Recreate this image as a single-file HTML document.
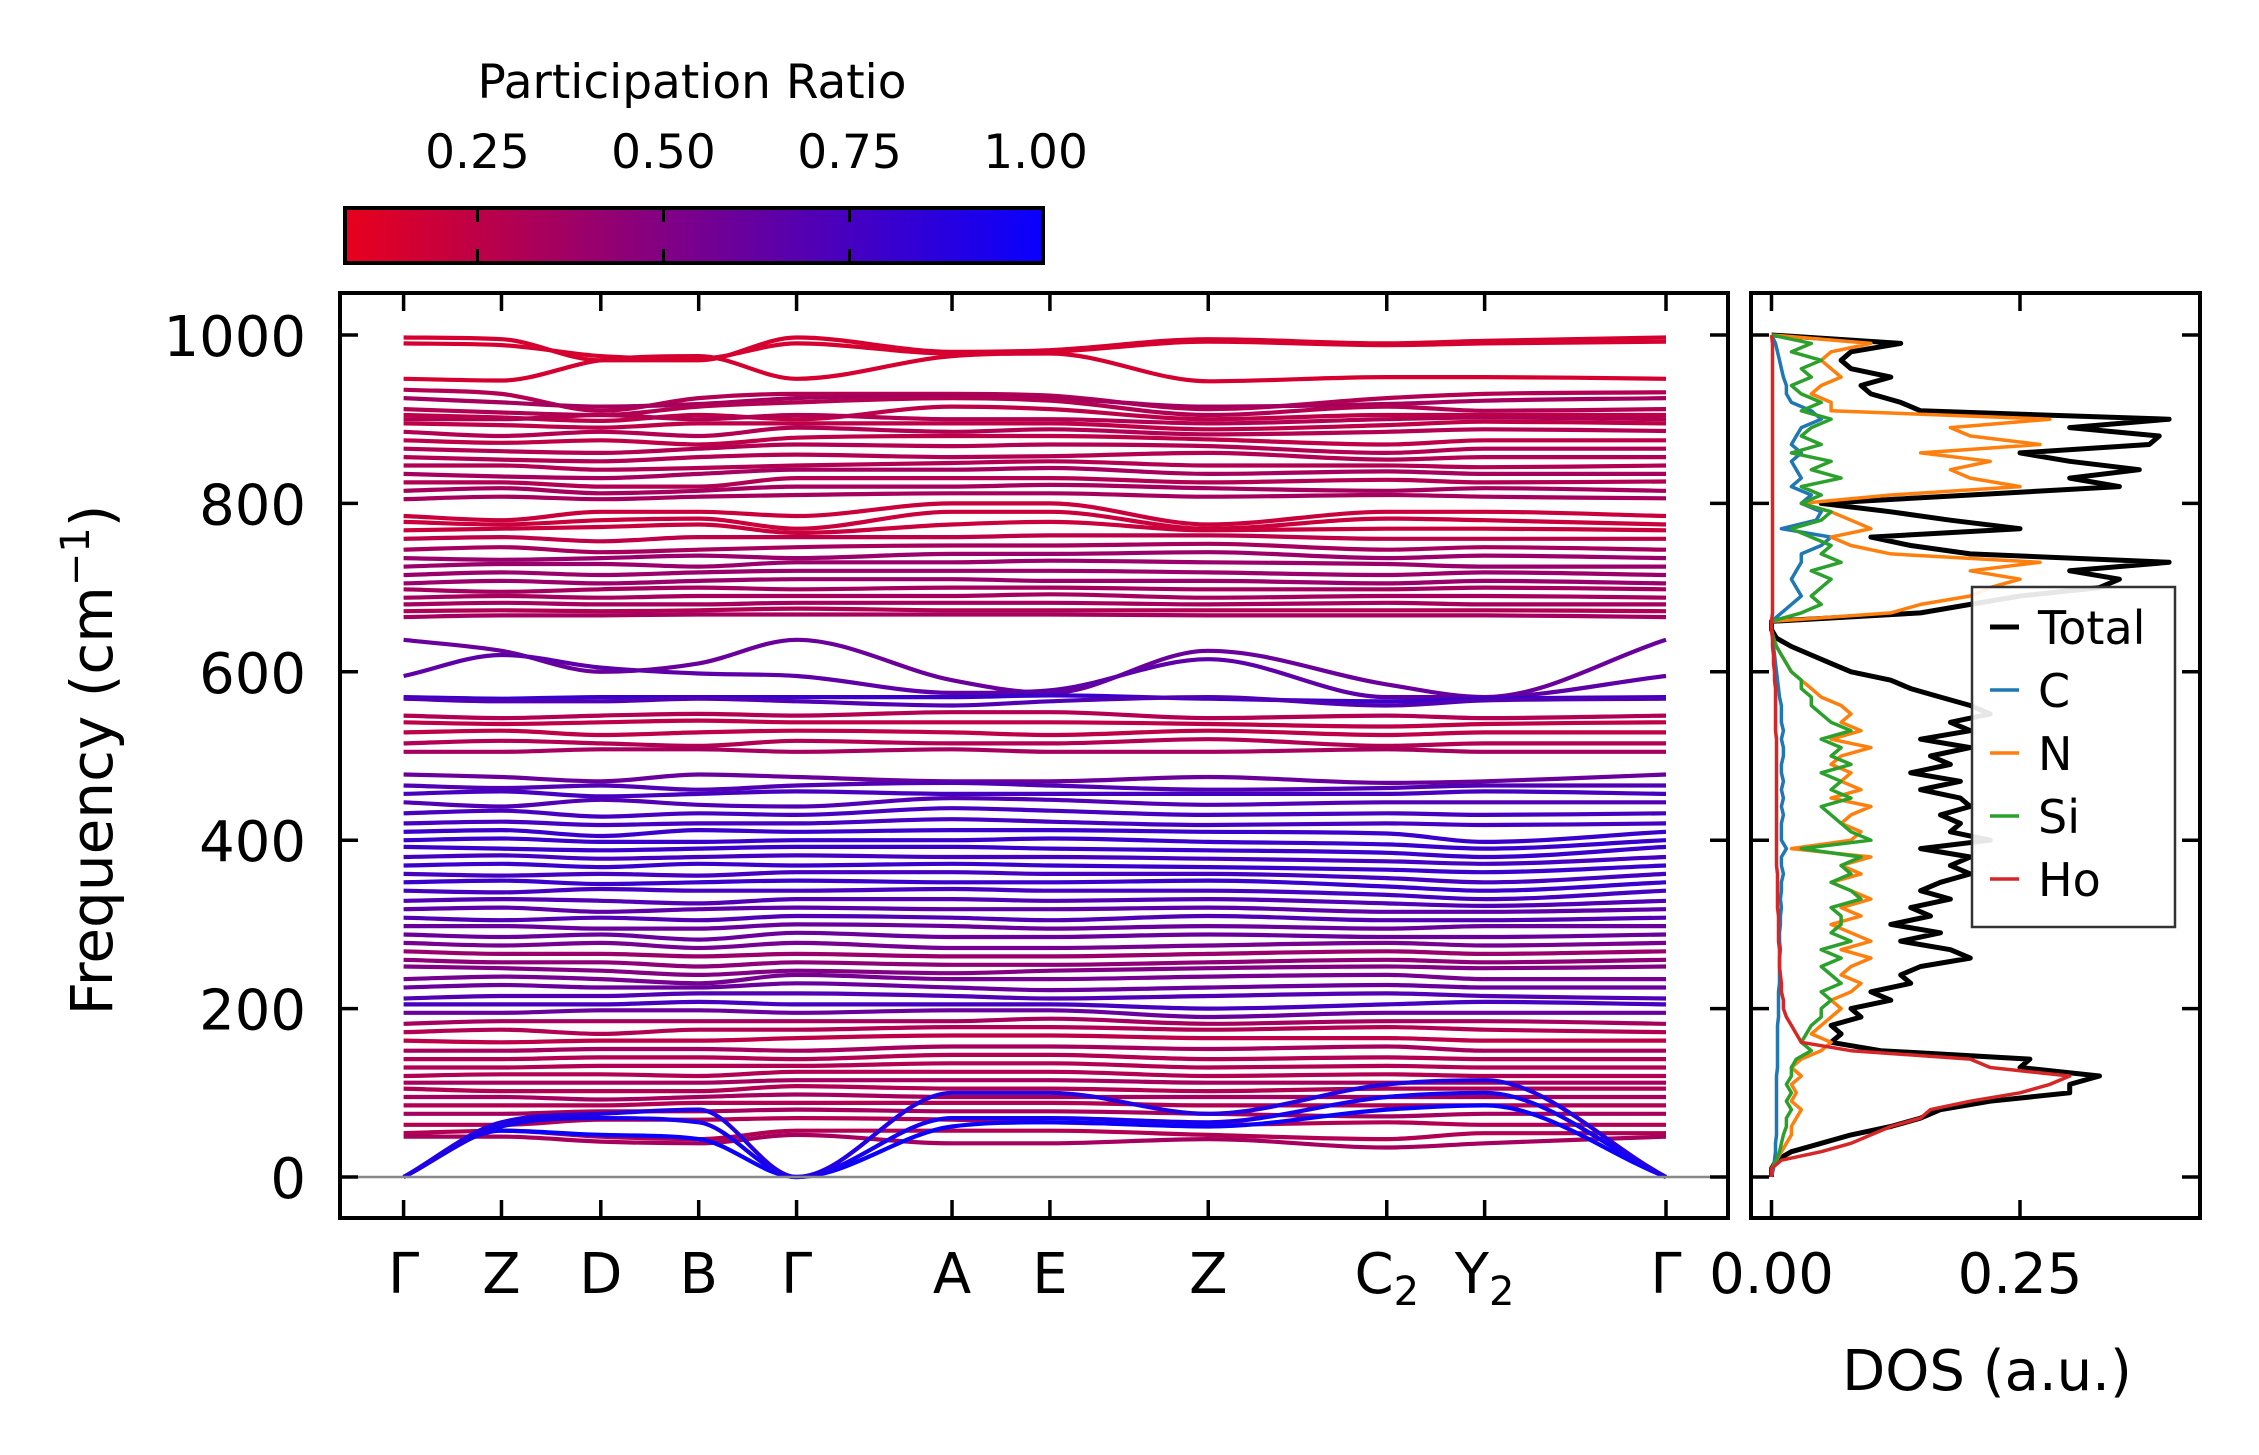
<!DOCTYPE html>
<html><head><meta charset="utf-8"><style>
html,body{margin:0;padding:0;background:#fff;}
svg{display:block;font-family:"DejaVu Sans","Liberation Sans",sans-serif;}
</style></head><body>
<svg id="fig" width="2259" height="1455" viewBox="0 0 2259 1455" xmlns="http://www.w3.org/2000/svg">
<defs>
<linearGradient id="cbgrad" x1="0" x2="1" y1="0" y2="0">
<stop offset="0" stop-color="rgb(232,0,28)"/><stop offset="1" stop-color="rgb(8,0,255)"/>
</linearGradient>
<clipPath id="clipMain"><rect x="340" y="293" width="1388" height="925"/></clipPath>
<clipPath id="clipDos"><rect x="1751" y="293" width="449" height="925"/></clipPath>
</defs>
<g id="colorbar">
<text x="692" y="98" font-size="47" text-anchor="middle">Participation Ratio</text>
<rect x="345" y="208" width="698" height="55" fill="url(#cbgrad)" stroke="#000" stroke-width="4"/>
<g id="cbticks"></g>
</g>
<g id="main">
<g id="bands" clip-path="url(#clipMain)"></g>
<line x1="340" x2="1728" y1="1177" y2="1177" stroke="#888" stroke-width="2.5"/>
<rect x="340" y="293" width="1388" height="925" fill="none" stroke="#000" stroke-width="4"/>
<g id="mainTicks"></g>
<text transform="translate(112,760) rotate(-90)" font-size="58" text-anchor="middle">Frequency (cm<tspan font-size="40" dy="-23">−1</tspan><tspan dy="23">)</tspan></text>
</g>
<g id="dos">
<g id="dosLines" clip-path="url(#clipDos)"></g>
<rect x="1751" y="293" width="449" height="925" fill="none" stroke="#000" stroke-width="4"/>
<g id="dosTicks"></g>
<text x="1987" y="1390" font-size="56" text-anchor="middle">DOS (a.u.)</text>
<g id="legend">
<rect x="1972" y="587" width="203" height="340" fill="#fff" fill-opacity="0.9" stroke="#333" stroke-width="2.5"/>
</g>
</g>
</svg>
<script>
const kLabels = ["Γ","Z","D","B","Γ","A","E","Z","C2","Y2","Γ"];
const kDist = [0,68,137,205,273,381,449,559,683,751,877];
const yTicks = [0,200,400,600,800,1000];
const cbTicks = [0.25,0.5,0.75,1.0];
const cbTickLabels = ["0.25","0.50","0.75","1.00"];
const bandFreqs = [
[997,995,970,970,997,980,982,995,990,993,997],
[990,988,975,972,990,978,980,992,988,990,992],
[948,946,970,975,948,975,978,945,950,950,948],
[935,930,910,925,930,930,928,912,925,930,932],
[925,920,915,918,925,928,925,915,918,922,925],
[912,908,905,915,920,925,922,905,915,910,912],
[905,902,898,905,900,915,912,900,905,905,905],
[900,900,905,900,905,900,900,895,900,902,900],
[895,893,890,895,895,895,895,888,893,897,895],
[885,880,885,880,890,885,888,882,885,888,886],
[875,872,875,870,878,880,880,876,870,875,875],
[865,862,860,865,870,868,870,868,860,865,865],
[855,852,850,855,858,855,856,860,852,855,855],
[845,845,840,842,845,848,850,845,845,843,845],
[835,832,830,835,840,840,842,835,838,835,835],
[825,825,820,820,830,830,830,825,828,825,826],
[815,818,812,815,820,820,822,818,815,818,815],
[805,808,805,808,810,812,812,808,810,808,806],
[785,780,790,790,785,800,800,775,790,790,785],
[778,775,780,782,770,790,790,770,782,780,775],
[768,770,772,775,765,775,778,768,770,770,768],
[758,760,755,760,760,760,762,762,758,758,758],
[745,748,742,745,748,750,750,752,745,748,745],
[735,733,735,738,735,740,740,742,735,738,735],
[725,728,728,725,730,730,732,730,728,725,725],
[715,718,715,718,720,720,720,718,715,718,715],
[705,708,705,708,710,710,708,708,705,708,705],
[698,695,698,700,698,700,700,698,698,700,698],
[688,690,688,690,690,690,692,688,690,690,688],
[680,682,680,680,682,682,682,680,682,680,680],
[672,673,672,673,675,673,673,673,673,673,672],
[665,667,667,668,668,668,668,667,667,667,665],
[638,625,600,610,638,590,575,625,585,570,638],
[595,620,605,598,595,575,578,615,570,570,595],
[570,568,570,570,570,570,572,568,565,568,570],
[568,565,565,568,565,560,565,570,560,566,568],
[548,545,548,550,548,552,552,545,548,545,548],
[540,538,540,542,540,540,540,538,535,538,540],
[528,530,525,528,530,528,525,530,525,528,528],
[515,518,515,512,518,515,515,520,512,515,515],
[505,505,508,508,505,508,505,505,508,505,505],
[478,475,470,478,475,470,470,475,468,470,478],
[465,462,465,460,465,468,465,460,462,465,465],
[455,458,452,455,458,455,455,455,455,458,455],
[445,440,448,442,440,450,448,442,445,445,445],
[432,435,428,432,430,438,435,430,432,430,432],
[420,422,418,420,420,425,422,418,420,418,420],
[410,412,405,412,410,412,412,410,408,398,410],
[400,402,398,398,400,400,402,398,395,390,400],
[392,390,388,390,392,392,390,388,385,380,392],
[380,382,378,380,382,380,380,378,375,372,380],
[370,372,368,372,370,372,370,368,365,362,370],
[360,358,360,358,362,362,360,360,355,350,360],
[350,352,348,350,352,350,350,352,345,340,350],
[340,338,342,340,340,342,340,340,335,330,340],
[328,330,328,325,330,330,328,330,325,322,328],
[318,320,315,318,320,318,318,320,315,315,318],
[308,305,308,305,310,308,305,310,305,305,308],
[298,298,295,295,300,298,295,298,295,298,298],
[288,285,288,282,290,285,285,288,285,285,288],
[278,275,278,272,278,272,272,275,278,275,278],
[268,265,265,262,265,262,262,265,268,265,268],
[258,255,255,250,255,252,252,255,258,255,258],
[250,248,245,240,245,242,245,248,250,248,250],
[235,238,235,230,240,235,235,238,240,235,235],
[225,228,225,225,230,225,222,225,228,225,225],
[212,215,215,218,218,215,212,215,218,215,212],
[205,205,205,208,205,205,205,200,205,208,205],
[195,195,198,198,195,198,198,190,195,195,195],
[182,185,185,185,185,185,188,182,185,185,182],
[172,175,170,175,175,178,178,175,178,175,172],
[162,160,162,162,165,168,168,165,165,162,162],
[150,150,152,152,150,155,155,152,155,150,150],
[140,140,142,142,140,145,145,140,142,140,140],
[130,130,132,132,132,135,135,130,132,130,130],
[120,122,122,120,125,125,125,120,122,120,120],
[112,112,112,112,115,115,115,112,112,112,112],
[105,102,102,102,108,105,105,102,105,105,105],
[95,95,92,95,98,95,95,95,95,95,95],
[85,85,85,88,88,88,88,85,85,85,85],
[75,75,78,78,80,78,78,75,72,75,75],
[62,62,68,68,70,68,65,62,65,62,62],
[52,55,48,45,55,55,55,50,45,52,52],
[48,48,42,40,50,40,40,45,35,40,48],
[0,55,50,45,0,60,65,60,80,85,0],
[0,60,70,65,0,70,70,65,95,100,0],
[0,65,75,80,0,100,100,75,110,115,0]
];
const bandPR = [0.15,0.15,0.15,0.3,0.35,0.3,0.25,0.3,0.25,0.3,0.25,0.3,0.3,0.3,0.35,0.3,0.35,0.35,0.2,0.2,0.2,0.25,0.35,0.4,0.4,0.4,0.4,0.35,0.35,0.35,0.3,0.35,
0.6,0.65,0.8,0.7,0.3,0.25,0.25,0.3,0.35,
0.6,0.7,0.75,0.7,0.75,0.75,0.8,0.8,0.8,0.75,0.8,0.75,0.8,0.75,0.7,0.65,0.7,0.6,0.6,0.55,0.4,0.45,0.5,0.55,0.6,0.7,0.75,0.6,0.35,0.3,0.25,0.35,0.3,0.3,0.3,0.35,0.3,0.35,0.3,0.35,0.3,0.3,0.35,1.0,0.95,0.9];

const dosFreq = [0,10,20,30,40,50,60,70,80,90,100,110,120,130,140,150,160,170,180,190,200,210,220,230,240,250,260,270,280,290,300,310,320,330,340,350,360,370,380,390,400,410,420,430,440,450,460,470,480,490,500,510,520,530,540,550,560,570,580,590,600,610,620,630,640,650,660,670,680,690,700,710,720,730,740,750,760,770,780,790,800,810,820,830,840,850,860,870,880,890,900,910,920,930,940,950,960,970,980,990,1000];
const dosTotal = [0,0,.005,.02,.05,.08,.12,.15,.17,.22,.30,.30,.33,.25,.26,.11,.06,.07,.06,.09,.08,
.12,.10,.14,.13,.15,.20,.18,.13,.17,.12,
.16,.14,.18,.15,.17,.20,.18,.20,.15,.22,
.18,.19,.17,.20,.19,.15,.19,.14,.18,.16,
.20,.15,.20,.18,.22,.20,.17,.14,.12,.08,
.06,.04,.02,.005,0,0,.15,.20,.25,.33,
.35,.30,.40,.20,.14,.10,.25,.18,.12,.05,
.20,.35,.30,.37,.30,.25,.38,.39,.30,.40,
.15,.13,.10,.09,.12,.08,.07,.08,.13,0];
const dosN = [0,0,.005,.01,.015,.02,.02,.025,.03,.02,.025,.02,.03,.02,.03,.05,.06,.04,.05,.06,.07,
.06,.08,.09,.07,.08,.10,.07,.10,.08,.06,
.09,.07,.10,.08,.06,.09,.07,.10,.02,.08,
.09,.07,.08,.10,.06,.09,.07,.08,.06,.07,
.10,.06,.09,.07,.08,.07,.05,.04,.03,.02,
.015,.01,.005,.002,0,0,.12,.15,.20,.22,
.25,.20,.27,.12,.08,.06,.10,.08,.06,.03,
.12,.25,.20,.18,.22,.15,.27,.20,.18,.28,
.06,.06,.04,.05,.07,.06,.05,.06,.10,0];
const dosSi = [0,0,.005,.008,.01,.012,.015,.015,.02,.015,.02,.015,.02,.02,.025,.04,.03,.035,.04,.05,.05,
.06,.05,.07,.06,.05,.07,.05,.08,.06,.07,
.07,.06,.09,.08,.06,.08,.07,.09,.03,.10,
.08,.07,.06,.05,.08,.06,.07,.05,.08,.06,
.07,.05,.08,.06,.05,.04,.04,.03,.03,.02,
.015,.01,.005,.002,0,0,.03,.05,.04,.05,
.06,.04,.07,.05,.06,.04,.02,.05,.06,.03,
.05,.03,.07,.04,.06,.02,.05,.03,.04,.06,
.03,.05,.03,.02,.04,.03,.05,.02,.04,0];
const dosC = [0,.002,.003,.004,.004,.005,.005,.005,.005,.005,.005,.005,.005,.006,.006,.006,.006,.006,.006,.007,.007,
.007,.007,.008,.008,.008,.008,.009,.008,.008,.009,
.009,.01,.009,.01,.01,.012,.01,.01,.015,.01,
.01,.01,.012,.01,.012,.01,.012,.01,.01,.012,
.012,.01,.012,.01,.01,.01,.008,.007,.006,.005,
.004,.003,.002,.001,0,0,.01,.02,.03,.025,
.02,.025,.03,.03,.05,.06,.01,.045,.05,.03,
.04,.02,.03,.025,.02,.03,.02,.025,.03,.05,
.04,.02,.015,.015,.012,.01,.008,.006,.004,0];
const dosHo = [0,0,.01,.05,.08,.10,.12,.15,.16,.20,.25,.28,.30,.22,.20,.08,.03,.025,.02,.015,.012,
.012,.01,.01,.009,.008,.008,.008,.007,.007,.007,
.007,.006,.006,.006,.006,.006,.005,.005,.005,.005,
.005,.005,.005,.005,.005,.005,.005,.005,.005,.005,
.005,.005,.004,.004,.004,.004,.004,.004,.003,.003,
.002,.002,.001,.001,0,0,.001,.001,.001,.001,
.001,.001,.001,.001,.001,.001,.001,.001,.001,.001,
.001,.001,.001,.001,.001,.001,.001,.001,.001,.001,
.001,.001,.001,.001,.001,.001,.001,.001,.001,0];
const dosTickVals = [0,0.25];
const dosTickLabels = ["0.00","0.25"];
const legendNames = ["Total","C","N","Si","Ho"];

const NS="http://www.w3.org/2000/svg";
const X0=403.6, X1=1666, Y0=1177, PXU=0.842;
const xK = d => X0 + d/kDist[kDist.length-1]*(X1-X0);
const yF = f => Y0 - f*PXU;
const xD = v => 1771.5 + v*994;
const CB_MIN=0.072, CB_MAX=1.01, CBL=345, CBR=1043;
const xCB = v => CBL + (v-CB_MIN)/(CB_MAX-CB_MIN)*(CBR-CBL);
function prColor(p){const t=Math.max(0,Math.min(1,(p-CB_MIN)/(CB_MAX-CB_MIN)));
 return `rgb(${Math.round(232+(8-232)*t)},0,${Math.round(28+(255-28)*t)})`;}
function el(tag,attrs,parent){const e=document.createElementNS(NS,tag);for(const k in attrs)e.setAttribute(k,attrs[k]);parent.appendChild(e);return e;}

// monotone cubic path (no overshoot)
function monoPath(pts){
 const n=pts.length, m=new Array(n), dl=[];
 for(let i=0;i<n-1;i++) dl.push((pts[i+1][1]-pts[i][1])/(pts[i+1][0]-pts[i][0]));
 m[0]=dl[0]; m[n-1]=dl[n-2];
 for(let i=1;i<n-1;i++){ m[i]=(dl[i-1]*dl[i]<=0)?0:(dl[i-1]+dl[i])/2; }
 for(let i=0;i<n-1;i++){ if(dl[i]===0){m[i]=0;m[i+1]=0;continue;}
  const a=m[i]/dl[i], b=m[i+1]/dl[i], s=a*a+b*b;
  if(s>9){const t=3/Math.sqrt(s); m[i]=t*a*dl[i]; m[i+1]=t*b*dl[i];} }
 let d=`M${pts[0][0].toFixed(1)},${pts[0][1].toFixed(1)}`;
 for(let i=0;i<n-1;i++){ const h=(pts[i+1][0]-pts[i][0])/3;
  d+=` C${(pts[i][0]+h).toFixed(1)},${(pts[i][1]+m[i]*h).toFixed(1)} ${(pts[i+1][0]-h).toFixed(1)},${(pts[i+1][1]-m[i+1]*h).toFixed(1)} ${pts[i+1][0].toFixed(1)},${pts[i+1][1].toFixed(1)}`; }
 return d;
}

const gB=document.getElementById('bands');
bandFreqs.forEach((fs,bi)=>{
 const pts=fs.map((f,i)=>[xK(kDist[i]),yF(f)]);
 const p=el('path',{d:monoPath(pts),fill:'none',stroke:prColor(bandPR[bi]),'stroke-width':4.2,'stroke-linejoin':'round'},gB);
 
 
});

const gT=document.getElementById('mainTicks');
kDist.forEach((d,i)=>{
 const x=xK(d);
 el('line',{x1:x,x2:x,y1:1218,y2:1200,stroke:'#000','stroke-width':3.5},gT);
 el('line',{x1:x,x2:x,y1:293,y2:311,stroke:'#000','stroke-width':3.5},gT);
 const lab=kLabels[i];
 const t=el('text',{x:x,y:1293,'font-size':56,'text-anchor':'middle'},gT);
 
 
 if(lab.length===2 && /\d/.test(lab[1])){
  t.appendChild(document.createTextNode(lab[0]));
  const s=el('tspan',{'font-size':40,dy:12},t); s.textContent=lab[1];
 } else t.textContent=lab;
});
yTicks.forEach(v=>{
 const y=yF(v);
 el('line',{x1:340,x2:358,y1:y,y2:y,stroke:'#000','stroke-width':3.5},gT);
 el('line',{x1:1710,x2:1728,y1:y,y2:y,stroke:'#000','stroke-width':3.5},gT);
 const t=el('text',{x:306,y:y+21,'font-size':56,'text-anchor':'end'},gT);
 t.textContent=String(v);
 
 
});

const gC=document.getElementById('cbticks');
cbTicks.forEach((v,i)=>{
 const x=xCB(v);
 if(v<1){el('line',{x1:x,x2:x,y1:208,y2:222,stroke:'#000','stroke-width':3},gC);
 el('line',{x1:x,x2:x,y1:249,y2:263,stroke:'#000','stroke-width':3},gC);}
 const t=el('text',{x:x,y:168,'font-size':47,'text-anchor':'middle'},gC);
 t.textContent=cbTickLabels[i];
 
 
});

const gD=document.getElementById('dosLines');
const series=[[dosTotal,'#000',5],[dosC,'#1f77b4',3.5],[dosN,'#ff7f0e',3.5],[dosSi,'#2ca02c',3.5],[dosHo,'#d62728',3.5]];
series.forEach((s,si)=>{
 const pts=dosFreq.map((f,i)=>xD(s[0][i]).toFixed(1)+','+yF(f).toFixed(1)).join(' ');
 const pl=el('polyline',{points:pts,fill:'none',stroke:s[1],'stroke-width':s[2],'stroke-linejoin':'round'},gD);
 
 
});
const gDT=document.getElementById('dosTicks');
dosTickVals.forEach((v,i)=>{
 const x=xD(v);
 el('line',{x1:x,x2:x,y1:1218,y2:1200,stroke:'#000','stroke-width':3.5},gDT);
 el('line',{x1:x,x2:x,y1:293,y2:311,stroke:'#000','stroke-width':3.5},gDT);
 const t=el('text',{x:x,y:1293,'font-size':56,'text-anchor':'middle'},gDT);
 t.textContent=dosTickLabels[i];
 
 
});
yTicks.forEach(v=>{
 const y=yF(v);
 el('line',{x1:1751,x2:1769,y1:y,y2:y,stroke:'#000','stroke-width':3.5},gDT);
 el('line',{x1:2182,x2:2200,y1:y,y2:y,stroke:'#000','stroke-width':3.5},gDT);
});

const gL=document.getElementById('legend');
legendNames.forEach((n,i)=>{
 const y=627+i*63;
 el('line',{x1:1990,x2:2019,y1:y,y2:y,stroke:series[i][1],'stroke-width':series[i][2]},gL);
 const t=el('text',{x:2038,y:y+17,'font-size':46},gL);
 t.textContent=n;
 
 
});
</script>
</body></html>
